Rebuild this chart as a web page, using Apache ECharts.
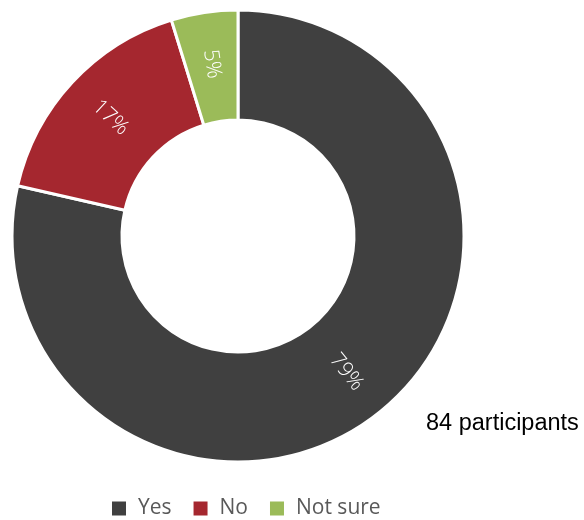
<!DOCTYPE html>
<html>
<head>
<meta charset="utf-8">
<style>
  html, body { margin: 0; padding: 0; background: #ffffff; }
  #chart { width: 584px; height: 520px; }
</style>
<script src="https://cdn.jsdelivr.net/npm/echarts@6/dist/echarts.min.js"></script>
</head>
<body>
<div id="chart"></div>
<script>
// Survey answers (counts out of 84 participants)
const categories = ['Yes', 'No', 'Not sure'];
const counts = [66, 14, 4];
const colors = ['#404040', '#A5272F', '#9BBB59'];
const totalNote = '84 participants';

const chart = echarts.init(document.getElementById('chart'), null, { renderer: 'canvas' });

const pieData = categories.map((name, i) => ({
  name: name,
  value: counts[i],
  itemStyle: { color: colors[i] }
}));

chart.setOption({
  animation: false,
  backgroundColor: '#ffffff',
  legend: {
    top: 498,
    left: 110,
    icon: 'rect',
    itemWidth: 16,
    itemHeight: 16,
    itemGap: 20,
    padding: 0,
    data: categories,
    textStyle: {
      fontFamily: 'Open Sans',
      fontSize: 21,
      color: '#595959',
      padding: [0, 0, 0, 6]
    }
  },
  graphic: [{
    type: 'text',
    left: 426,
    top: 412,
    style: {
      text: totalNote,
      font: '23.5px "Liberation Sans", Arial, sans-serif',
      fill: '#000000'
    }
  }],
  series: [{
    type: 'pie',
    center: [238, 236],
    radius: [116, 226],
    startAngle: 90,
    clockwise: true,
    avoidLabelOverlap: false,
    itemStyle: { borderColor: '#ffffff', borderWidth: 3 },
    label: {
      show: true,
      position: 'inside',
      rotate: 'radial',
      formatter: (p) => Math.round(p.percent) + '%',
      fontFamily: 'Open Sans',
      fontWeight: 300,
      fontSize: 21,
      color: '#ffffff'
    },
    labelLine: { show: false },
    emphasis: { disabled: true },
    data: pieData
  }]
});
</script>
</body>
</html>
